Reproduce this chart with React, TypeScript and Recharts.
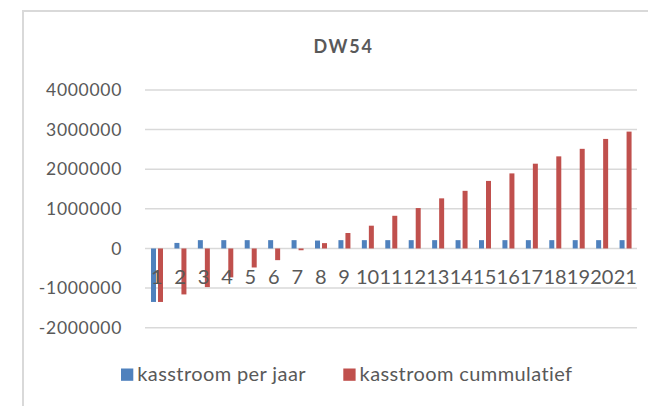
import React from 'react';
import { BarChart, Bar, XAxis, YAxis, CartesianGrid } from 'recharts';

const years = ['1','2','3','4','5','6','7','8','9','10','11','12','13','14','15','16','17','18','19','20','21'];
const kasstroomPerJaar = [-1350000, 140000, 210000, 210000, 210000, 210000, 210000, 200000, 210000, 210000, 210000, 210000, 210000, 210000, 210000, 210000, 210000, 210000, 210000, 210000, 210000];
const kasstroomCummulatief = [-1350000, -1160000, -975000, -730000, -480000, -295000, -45000, 135000, 390000, 575000, 825000, 1020000, 1265000, 1455000, 1705000, 1895000, 2140000, 2325000, 2515000, 2765000, 2950000];
const yTicks = [-2000000, -1000000, 0, 1000000, 2000000, 3000000, 4000000];
const seriesNames = ['kasstroom per jaar', 'kasstroom cummulatief'];
const title = 'DW54';

const data = years.map((y, i) => ({ year: y, perJaar: kasstroomPerJaar[i], cum: kasstroomCummulatief[i] }));

const TEXT = '#595959';
const FONT = 'Lato, "Open Sans", sans-serif';
const BLUE = '#4F81BD';
const RED = '#C0504D';

const XTick = (props: any) => {
  const { x, y, payload } = props;
  return (
    <text x={x} y={y - 51.4} textAnchor="middle" fontSize={20} fill={TEXT} fontFamily={FONT}>
      {payload.value}
    </text>
  );
};

const YTick = (props: any) => {
  const { x, y, payload } = props;
  return (
    <text x={x} y={y + 6.2} textAnchor="end" fontSize={17.5} fill={TEXT} fontFamily={FONT} letterSpacing={0.7}>
      {payload.value}
    </text>
  );
};

export default function App() {
  const colors = [BLUE, RED];
  const legendX = [121, 343.3];
  return (
    <div style={{ position: 'absolute', left: 0, top: 0, width: 648, height: 406, overflow: 'hidden', background: '#fff' }}>
      <div style={{ position: 'absolute', left: 22, top: 10, width: 800, height: 600, borderLeft: '2px solid #d9d9d9', borderTop: '2px solid #d9d9d9' }} />
      <div style={{ position: 'absolute', left: 0, top: 0 }}>
        <BarChart
          width={648}
          height={406}
          data={data}
          margin={{ top: 90, right: 11, bottom: 48.3, left: 0 }}
          barGap={2}
        >
          <CartesianGrid vertical={false} stroke="#d9d9d9" strokeWidth={1.5} />
          <XAxis dataKey="year" axisLine={false} tickLine={false} interval={0} height={30} tick={<XTick />} />
          <YAxis
            width={145}
            domain={[-2000000, 4000000]}
            ticks={yTicks}
            axisLine={false}
            tickLine={false}
            tickMargin={17}
            tick={<YTick />}
            interval={0}
          />
          <Bar dataKey="perJaar" name={seriesNames[0]} fill={BLUE} barSize={5} isAnimationActive={false} />
          <Bar dataKey="cum" name={seriesNames[1]} fill={RED} barSize={5} isAnimationActive={false} />
        </BarChart>
      </div>
      <svg width={648} height={406} style={{ position: 'absolute', left: 0, top: 0, pointerEvents: 'none' }}>
        <text x={343.6} y={53.3} textAnchor="middle" fontSize={18} fontWeight="bold" fill={TEXT} fontFamily={FONT} letterSpacing={1.8}>
          {title}
        </text>
        {seriesNames.map((n, i) => (
          <g key={n}>
            <rect x={legendX[i]} y={368.5} width={12.3} height={12.3} fill={colors[i]} />
            <text x={legendX[i] + 16.3} y={381} fontSize={20} fill={TEXT} fontFamily={FONT} letterSpacing={0.4}>
              {n}
            </text>
          </g>
        ))}
      </svg>
    </div>
  );
}
